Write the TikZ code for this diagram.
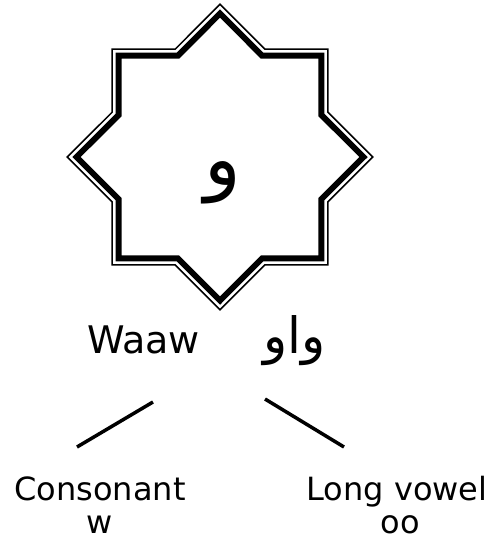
\documentclass[tikz,border=0pt]{standalone}
\usepackage{fontspec}
\setmainfont{DejaVu Sans}
\newfontfamily\arabicfont[Script=Arabic]{DejaVu Sans}
\TeXXeTstate=1
\usetikzlibrary{calc}
\tikzset{
  starthin/.style={line width=1.5pt, line join=miter},
  starthick/.style={line width=6pt, line join=miter},
  lbl/.style={inner sep=0pt, anchor=base, font=\fontsize{32}{36}\selectfont},
  big/.style={inner sep=0pt, anchor=base, font=\fontsize{38}{44}\selectfont},
  ar/.style={inner sep=0pt, anchor=base, font=\arabicfont\fontsize{50}{56}\selectfont},
  conn/.style={line width=3.5pt}
}
\begin{document}
\begin{tikzpicture}[x=1pt,y=-1pt]
\useasboundingbox (0,0) rectangle (493,547);
\coordinate (c) at (220,157);
% outer thin star
\draw[starthin] ($(c)+(90:152.7)$)
  \foreach \k in {1,...,15} {
    -- ($(c)+({90+\k*22.5}:{ifthenelse(mod(\k,2)==0,152.7,152.7*0.76537)})$)
  } -- cycle;
\draw[starthick] ($(c)+(90:143.5)$)
  \foreach \k in {1,...,15} {
    -- ($(c)+({90+\k*22.5}:{ifthenelse(mod(\k,2)==0,143.5,143.5*0.76537)})$)
  } -- cycle;
\node[ar, font=\arabicfont\fontsize{76}{80}\selectfont] (letter) at (223,185) {\beginR و\endR};
\node[big] (waaw) at (143.5,353) {Waaw};
\node[ar] (arab) at (294.5,353) {\beginR واو\endR};
\node[lbl] (cons) at (100,500) {Consonant};
\node[lbl] (w) at (100,533) {w};
\node[lbl] (long) at (397,500) {Long vowel};
\node[lbl] (oo) at (400,533) {oo};
\coordinate (l1) at (153,402);
\coordinate (l2) at (77,447);
\coordinate (r1) at (265,399);
\coordinate (r2) at (344,447);
\draw[conn] (l1) -- (l2);
\draw[conn] (r1) -- (r2);
\end{tikzpicture}
\end{document}
